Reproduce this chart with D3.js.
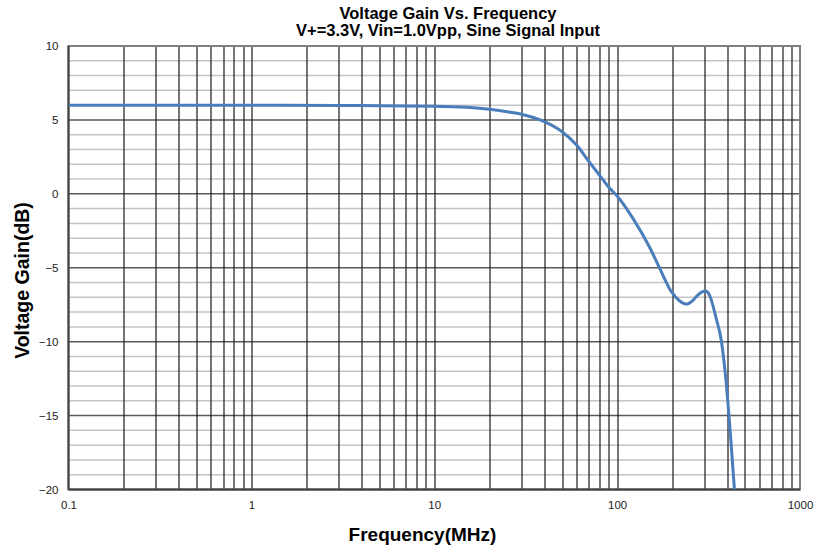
<!DOCTYPE html>
<html>
<head>
<meta charset="utf-8">
<script src="https://cdn.jsdelivr.net/npm/d3@7"></script>
<style>
  body { margin: 0; background: #fff; }
  text { font-family: "Liberation Sans", Arial, sans-serif; }
</style>
</head>
<body>
<svg width="829" height="557"></svg>
<script>
// ~~~~~~ DATA ~~~~~~
var freq_mhz = [0.1, 0.3, 1, 3, 5, 10, 15, 20, 25, 30, 40, 50, 60, 70, 80, 90, 100,
                122, 150, 171, 198, 220, 239, 260, 276, 290, 304, 320, 348, 371, 395, 416, 438];
var gain_db  = [6.0, 6.0, 6.0, 5.98, 5.96, 5.93, 5.85, 5.72, 5.55, 5.38, 4.88, 4.2, 3.3, 2.2, 1.27, 0.45, -0.15,
                -1.66, -3.58, -5.04, -6.62, -7.25, -7.46, -7.2, -6.85, -6.65, -6.58, -6.85, -8.42, -9.9, -12.8, -16.2, -20];

var x_ticks = [0.1, 1, 10, 100, 1000];
var y_ticks = [10, 5, 0, -5, -10, -15, -20];

var title_lines = ["Voltage Gain Vs. Frequency", "V+=3.3V, Vin=1.0Vpp, Sine Signal Input"];
var x_title = "Frequency(MHz)";
var y_title = "Voltage Gain(dB)";

// ~~~~~~ SVG ~~~~~~
var svg = d3.select("svg"),
    margin = {top: 46, right: 29, bottom: 67.5, left: 68.5},
    width = +svg.attr("width") - margin.left - margin.right,
    height = +svg.attr("height") - margin.top - margin.bottom;

var main_g = svg.append("g")
    .attr("transform", "translate(" + margin.left + "," + margin.top + ")");

// ~~~~~~ SCALES ~~~~~~
var x = d3.scaleLog().domain([0.1, 1000]).range([0, width]);
var y = d3.scaleLinear().domain([-20, 10]).range([height, 0]);

// minor horizontal grid (every 1 dB)
main_g.selectAll(".hminor")
  .data(d3.range(-20, 11).filter(function(d) { return d % 5 !== 0; }))
  .enter().append("line")
  .attr("x1", 0).attr("x2", width)
  .attr("y1", function(d) { return y(d); })
  .attr("y2", function(d) { return y(d); })
  .attr("stroke", "#c4c4c4")
  .attr("stroke-width", 1.5);

// major horizontal grid
main_g.selectAll(".hmajor")
  .data(y_ticks)
  .enter().append("line")
  .attr("x1", 0).attr("x2", width)
  .attr("y1", function(d) { return y(d); })
  .attr("y2", function(d) { return y(d); })
  .attr("stroke", "#5a5a5a")
  .attr("stroke-width", 1.5);

// vertical grid: 1..9 in every decade
var vlines = [];
[0.1, 1, 10, 100].forEach(function(dec) {
  for (var k = 2; k <= 9; k++) vlines.push(dec * k);
});
vlines = vlines.concat([1, 10, 100]);

main_g.selectAll(".vgrid")
  .data(vlines)
  .enter().append("line")
  .attr("x1", function(d) { return Math.round(x(d)) + 0.5; })
  .attr("x2", function(d) { return Math.round(x(d)) + 0.5; })
  .attr("y1", 0).attr("y2", height)
  .attr("stroke", "#1a1a1a")
  .attr("stroke-width", 1.2);

// plot border
main_g.append("rect")
  .attr("x", 0).attr("y", 0)
  .attr("width", width).attr("height", height)
  .attr("fill", "none")
  .attr("stroke", "#7f7f7f")
  .attr("stroke-width", 2);

main_g.append("line")
  .attr("x1", 0).attr("x2", 0).attr("y1", 0).attr("y2", height)
  .attr("stroke", "#404040").attr("stroke-width", 2);
main_g.append("line")
  .attr("x1", 0).attr("x2", width).attr("y1", height).attr("y2", height)
  .attr("stroke", "#404040").attr("stroke-width", 2);

// ~~~~~~ AXES ~~~~~~
var x_axis = main_g.append("g")
  .attr("transform", "translate(0," + height + ")")
  .call(d3.axisBottom(x).tickValues(x_ticks).tickSize(0).tickPadding(11)
        .tickFormat(function(d) { return String(d); }));
x_axis.select(".domain").remove();
x_axis.selectAll("text")
  .style("font-size", "11.5px")
  .attr("fill", "#222")
  .attr("dy", "0.71em");

var y_axis = main_g.append("g")
  .call(d3.axisLeft(y).tickValues(y_ticks).tickSize(0).tickPadding(10));
y_axis.select(".domain").remove();
y_axis.selectAll("text")
  .style("font-size", "11.5px")
  .attr("fill", "#222");
svg.selectAll(".tick text").style("font-family", "'Liberation Sans', Arial, sans-serif");

// ~~~~~~ LINE ~~~~~~
main_g.append("clipPath").attr("id", "clip")
  .append("rect").attr("x", 0).attr("y", -5).attr("width", width).attr("height", height + 5);

var drawLine = d3.line()
  .x(function(d) { return x(d[0]); })
  .y(function(d) { return y(d[1]); })
  .curve(d3.curveMonotoneX);

main_g.append("path")
  .datum(d3.zip(freq_mhz, gain_db))
  .attr("clip-path", "url(#clip)")
  .attr("fill", "none")
  .attr("stroke", "#4a7ebb")
  .attr("stroke-width", 3)
  .attr("stroke-linejoin", "round")
  .attr("d", drawLine);

// ~~~~~~ TITLES ~~~~~~
svg.selectAll(".title")
  .data(title_lines)
  .enter().append("text")
  .attr("x", 448)
  .attr("y", function(d, i) { return 18.5 + i * 17; })
  .attr("text-anchor", "middle")
  .style("font-size", "16.5px")
  .style("font-weight", "bold")
  .attr("fill", "#000")
  .text(function(d) { return d; });

svg.append("text")
  .attr("x", 422.5)
  .attr("y", 541)
  .attr("text-anchor", "middle")
  .style("font-size", "19px")
  .style("font-weight", "bold")
  .text(x_title);

svg.append("text")
  .attr("transform", "translate(29,280.5) rotate(-90)")
  .attr("text-anchor", "middle")
  .style("font-size", "19.5px")
  .style("font-weight", "bold")
  .text(y_title);
</script>
</body>
</html>
